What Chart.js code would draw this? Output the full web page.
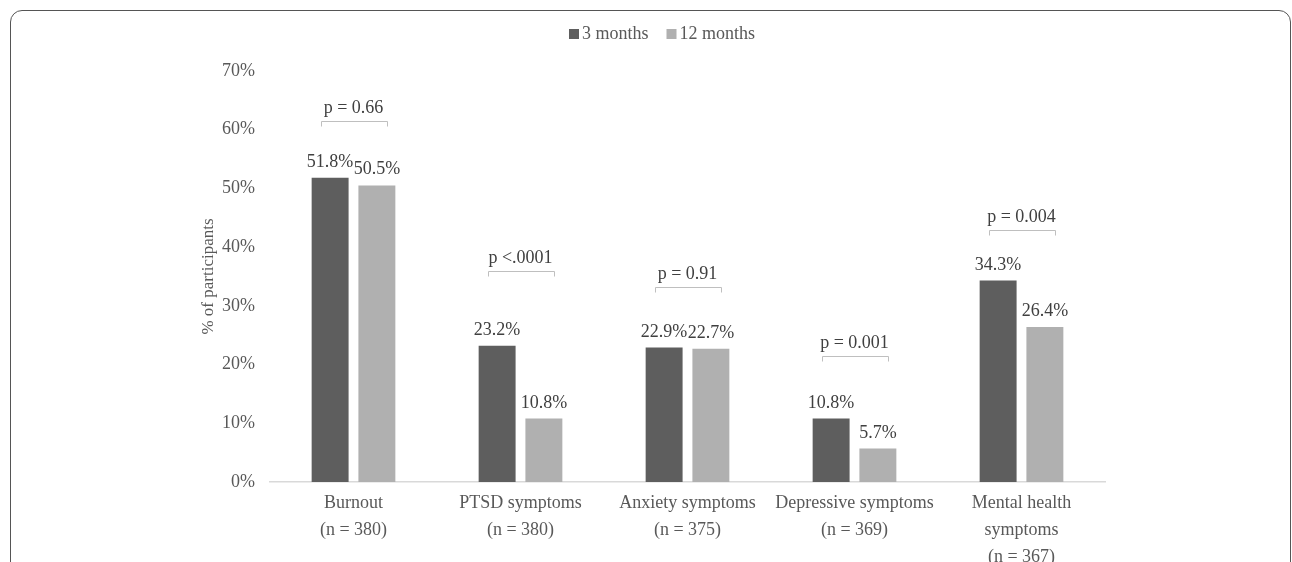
<!DOCTYPE html>
<html>
<head>
<meta charset="utf-8">
<script src="https://cdn.jsdelivr.net/npm/chart.js@4"></script>
<style>
  html, body { margin: 0; padding: 0; background: #fff; overflow: hidden; }
  #frame { position: absolute; left: 10px; top: 10px; width: 1279px; height: 700px;
           border: 1px solid #555; border-radius: 12px; }
  #wrap { position: absolute; left: 0; top: 0; width: 1292px; height: 562px; }
</style>
</head>
<body>
<div id="frame"></div>
<div id="wrap"><canvas id="c"></canvas></div>
<script>
const categories = [
  ['Burnout', '(n = 380)'],
  ['PTSD symptoms', '(n = 380)'],
  ['Anxiety symptoms', '(n = 375)'],
  ['Depressive symptoms', '(n = 369)'],
  ['Mental health', 'symptoms', '(n = 367)']
];
const months3 = [51.8, 23.2, 22.9, 10.8, 34.3];
const months12 = [50.5, 10.8, 22.7, 5.7, 26.4];
const pLabels = ['p = 0.66', 'p <.0001', 'p = 0.91', 'p = 0.001', 'p = 0.004'];
const bracketLevels = [61.4, 36.0, 33.2, 21.5, 43.0];
const yTicks = [0, 10, 20, 30, 40, 50, 60, 70];

const FONT = '"Liberation Serif", "Times New Roman", serif';

const annotate = {
  id: 'annotate',
  afterDatasetsDraw(chart) {
    const {ctx, scales} = chart;
    ctx.save();
    ctx.font = '18px ' + FONT;
    ctx.fillStyle = '#404040';
    ctx.textAlign = 'center';
    ctx.textBaseline = 'alphabetic';
    chart.data.datasets.forEach((ds, di) => {
      chart.getDatasetMeta(di).data.forEach((bar, i) => {
        ctx.fillText(ds.data[i].toFixed(1) + '%', bar.x, bar.y - 11);
      });
    });
    // p-value brackets
    const m0 = chart.getDatasetMeta(0).data;
    const m1 = chart.getDatasetMeta(1).data;
    ctx.strokeStyle = '#bfbfbf';
    ctx.lineWidth = 1;
    bracketLevels.forEach((lvl, i) => {
      const cx = (m0[i].x + m1[i].x) / 2;
      const y = Math.round(scales.y.getPixelForValue(lvl)) + 0.5;
      const x1 = Math.round(cx - 33) + 0.5, x2 = Math.round(cx + 33) + 0.5;
      ctx.beginPath();
      ctx.moveTo(x1, y + 5); ctx.lineTo(x1, y); ctx.lineTo(x2, y); ctx.lineTo(x2, y + 5);
      ctx.stroke();
      ctx.fillText(pLabels[i], cx, y - 9);
    });

    // legend, centred at top
    ctx.textAlign = 'left';
    const items = chart.data.datasets.map(ds => ({ text: ds.label, color: ds.backgroundColor, w: ctx.measureText(ds.label).width }));
    const total = items.reduce((s, it) => s + 10 + 3 + it.w, 0) + 18 * (items.length - 1);
    let x = 662 - total / 2;
    items.forEach(it => {
      ctx.fillStyle = it.color;
      ctx.fillRect(x, 29, 10, 10);
      ctx.fillStyle = '#595959';
      ctx.fillText(it.text, x + 13, 39);
      x += 13 + it.w + 18;
    });
    ctx.restore();
  }
};

new Chart(document.getElementById('c'), {
  type: 'bar',
  data: {
    labels: categories,
    datasets: [
      { label: '3 months', data: months3, backgroundColor: '#5e5e5e', borderWidth: 0 },
      { label: '12 months', data: months12, backgroundColor: '#b0b0b0', borderWidth: 0 }
    ]
  },
  options: {
    responsive: true,
    maintainAspectRatio: false,
    animation: false,
    categoryPercentage: 0.56,
    barPercentage: 0.79,
    layout: { padding: { left: 198, right: 187, top: 71, bottom: 0 } },
    plugins: {
      tooltip: { enabled: false },
      legend: { display: false }
    },
    scales: {
      x: {
        grid: { display: false, drawTicks: false },
        border: { display: true, color: '#d9d9d9', width: 1.5 },
        ticks: { color: '#595959', font: { family: FONT, size: 18, lineHeight: 1.5 }, padding: 8, maxRotation: 0, autoSkip: false },
        afterFit(s) { s.height = 80; }
      },
      y: {
        min: 0, max: 70,
        grid: { display: false, drawTicks: false },
        border: { display: false },
        afterBuildTicks(s) { s.ticks = yTicks.map(v => ({ value: v })); },
        ticks: { color: '#595959', font: { family: FONT, size: 18 }, padding: 15, callback: v => v + '%' },
        title: { display: true, text: '% of participants', color: '#595959', font: { family: FONT, size: 17 }, padding: 0 },
        afterFit(s) { s.width = 72; }
      }
    }
  },
  plugins: [annotate]
});
</script>
</body>
</html>
